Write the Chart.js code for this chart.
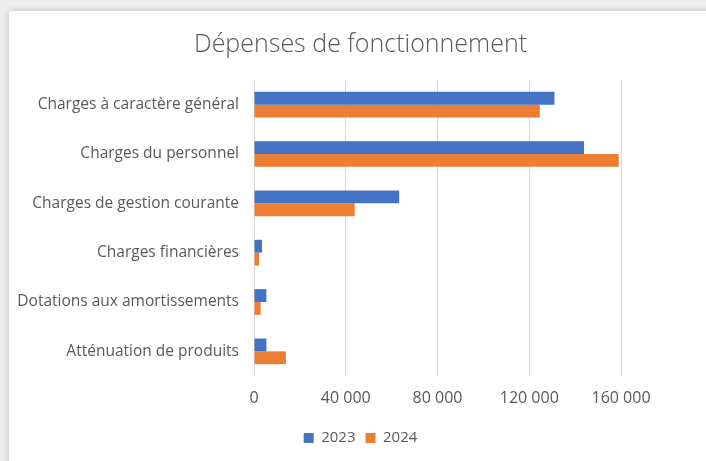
<!DOCTYPE html>
<html>
<head>
<meta charset="utf-8">
<script src="https://cdn.jsdelivr.net/npm/chart.js@4"></script>
<style>
  html, body { margin: 0; padding: 0; width: 706px; height: 461px; overflow: hidden; background: #eeeeee; }
  #panel { position: absolute; left: 9px; top: 11px; width: 720px; height: 470px; background: #fff;
           box-shadow: 0 0 6px rgba(0,0,0,0.22); }
  #wrap { position: absolute; left: 0; top: 0; width: 706px; height: 461px; }
</style>
</head>
<body>
<div id="panel"></div>
<div id="wrap"><canvas id="chart" width="706" height="461"></canvas></div>
<script>
// Categories and yearly amounts
const categories = [
  "Charges à caractère général",
  "Charges du personnel",
  "Charges de gestion courante",
  "Charges financières",
  "Dotations aux amortissements",
  "Atténuation de produits"
];
const values2023 = [131000, 143900, 63300, 3500, 5400, 5400];
const values2024 = [124600, 159000, 43900, 2200, 2900, 13900];
const seriesNames = ["2023", "2024"];

const grey = "#595959";
const font = "'Open Sans', 'DejaVu Sans', sans-serif";

// Format thousands with a plain space, like "40 000"
function formatNumber(v) {
  return String(v).replace(/\B(?=(\d{3})+(?!\d))/g, " ");
}

// Title and legend are centred on the whole card in the original, not on
// canvas minus the right padding, so nudge their boxes after layout
const centreBlocks = {
  id: "centreBlocks",
  afterLayout(chart) {
    if (chart.titleBlock) chart.titleBlock.left += 100;
    if (chart.legend) chart.legend.left += 100;
  }
};

const ctx = document.getElementById("chart").getContext("2d");
new Chart(ctx, {
  type: "bar",
  data: {
    labels: categories,
    datasets: [
      { label: seriesNames[0], data: values2023, backgroundColor: "#4472C4" },
      { label: seriesNames[1], data: values2024, backgroundColor: "#ED7D31" }
    ]
  },
  options: {
    indexAxis: "y",
    responsive: false,
    animation: false,
    layout: { padding: { left: 0, right: 85, top: 0, bottom: 5.5 } },
    datasets: { bar: { barPercentage: 1, categoryPercentage: 0.52 } },
    scales: {
      x: {
        min: 0,
        max: 160000,
        ticks: { stepSize: 40000, color: grey, font: { family: font, size: 16 }, padding: 13,
                 callback: (v) => formatNumber(v) },
        grid: { color: "#d9d9d9", drawTicks: false },
        border: { display: false },
        afterFit: (s) => { s.height = 44.5; }
      },
      y: {
        ticks: { color: grey, font: { family: font, size: 15.5 }, padding: 15 },
        grid: { display: false, drawTicks: false },
        border: { display: false },
        afterFit: (s) => { s.width = 254; }
      }
    },
    plugins: {
      title: {
        display: true,
        text: "Dépenses de fonctionnement",
        color: grey,
        font: { family: font, size: 25, weight: 300 },
        padding: { top: 30, bottom: 20 }
      },
      legend: {
        position: "bottom",
        labels: { color: grey, font: { family: font, size: 15 }, boxWidth: 10, boxHeight: 10, padding: 10 }
      },
      tooltip: { enabled: false }
    }
  },
  plugins: [centreBlocks]
});
</script>
</body>
</html>
